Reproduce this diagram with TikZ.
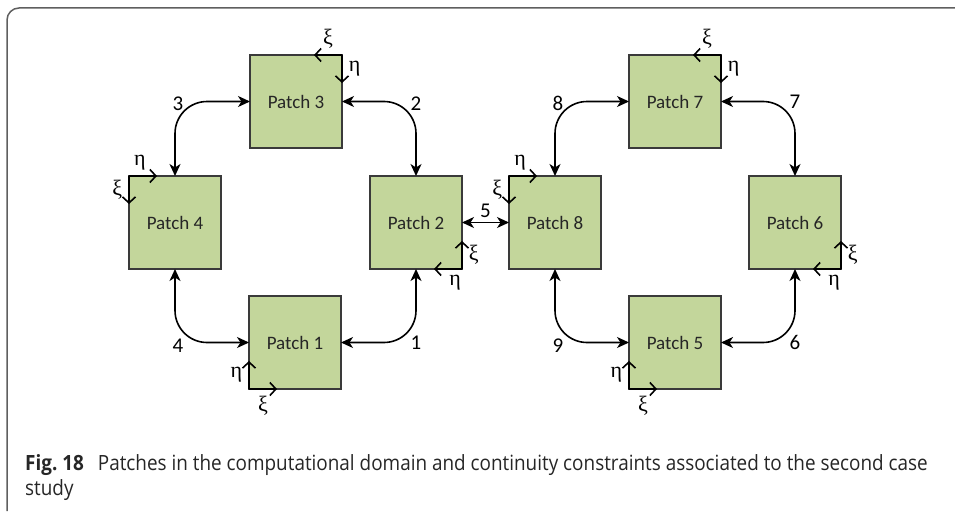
\documentclass[tikz,border=0pt]{standalone}
\usepackage{fontspec}
\setmainfont{Carlito}
\newfontfamily\greekfont{Liberation Serif}
\newfontfamily\capfont[FakeStretch=0.9]{Open Sans}
\usepackage{tikz}
\usetikzlibrary{positioning,arrows.meta}

\definecolor{patchgreen}{HTML}{C3D69B}
\definecolor{edgegray}{HTML}{3A3A3A}
\definecolor{framegray}{HTML}{5F5F5F}
\definecolor{textgray}{HTML}{262626}

\begin{document}
\begin{tikzpicture}[
        x=1pt, y=1pt,
        patch/.style={rectangle, draw=edgegray, fill=patchgreen, minimum width=92pt, minimum height=93pt, inner sep=0pt, outer sep=0pt, line width=1.5pt, text=textgray, font=\fontsize{19}{21}\selectfont},
        link/.style={draw, {Stealth[length=12pt,width=11pt,inset=3.5pt]}-{Stealth[length=12pt,width=11pt,inset=3.5pt]}, line width=1.6pt, rounded corners=32pt},
        num/.style={font=\fontsize{21}{23}\selectfont, inner sep=1pt},
        axis/.style={draw, -{Straight Barb[length=6pt,width=13pt]}, line width=1.6pt},
        greek/.style={font=\greekfont\fontsize{22}{24}\selectfont, inner sep=1pt}
    ]

    \useasboundingbox (0,0) rectangle (955,-511);

    % Frame
    \draw [framegray, line width=1.5pt, rounded corners=12pt] (7,-511) -- (7,-8) -- (955,-8);

    % Left ring of patches
    \node [patch] (p3) at (296,-101.5) {Patch 3};
    \node [patch, below left=28pt and 29pt of p3] (p4) {Patch 4};
    \node [patch, below right=28pt and 28pt of p3] (p2) {Patch 2};
    \node [patch, below right=27pt and 28pt of p4] (p1) {Patch 1};

    % Right ring of patches
    \node [patch, right=47pt of p2] (p8) {Patch 8};
    \node [patch, above right=28pt and 28pt of p8] (p7) {Patch 7};
    \node [patch, below right=28pt and 28pt of p7] (p6) {Patch 6};
    \node [patch, below right=27pt and 28pt of p8] (p5) {Patch 5};

    % Continuity constraints
    \path [link] (p3.east) -| node [num, midway, yshift=-2pt] (c2) {2} (p2.north);
    \path [link] (p4.north) |- node [num, midway, xshift=3pt, yshift=-2pt] (c3) {3} (p3.west);
    \path [link] (p1.east) -| node [num, midway] (c1) {1} (p2.south);
    \path [link] (p4.south) |- node [num, midway, xshift=3pt, yshift=-3pt] (c4) {4} (p1.west);
    \path [link] (p2.east) -- node [num, above=3pt] (c5) {5} (p8.west);
    \path [link] (p5.east) -| node [num, midway] (c6) {6} (p6.south);
    \path [link] (p7.east) -| node [num, midway] (c7) {7} (p6.north);
    \path [link] (p8.north) |- node [num, midway, xshift=3pt, yshift=-2pt] (c8) {8} (p7.west);
    \path [link] (p8.south) |- node [num, midway, xshift=3pt, yshift=-3pt] (c9) {9} (p5.west);

    % Local coordinates of each patch
    \path [axis] (p1.south west) -- ++(28,0) node [greek, midway, below=5pt] (xi1) {ξ};
    \path [axis] (p1.south west) -- ++(0,28) node [greek, midway, left=5pt] (eta1) {η};
    \path [axis] (p2.south east) -- ++(0,28) node [greek, midway, right=5pt] (xi2) {ξ};
    \path [axis] (p2.south east) -- ++(-28,0) node [greek, midway, below=4pt, xshift=7pt] (eta2) {η};
    \path [axis] (p3.north east) -- ++(-28,0) node [greek, midway, above=5pt] (xi3) {ξ};
    \path [axis] (p3.north east) -- ++(0,-28) node [greek, midway, right=5pt] (eta3) {η};
    \path [axis] (p4.north west) -- ++(0,-28) node [greek, midway, left=5pt] (xi4) {ξ};
    \path [axis] (p4.north west) -- ++(28,0) node [greek, midway, above=4pt, xshift=-3pt] (eta4) {η};
    \path [axis] (p5.south west) -- ++(28,0) node [greek, midway, below=5pt] (xi5) {ξ};
    \path [axis] (p5.south west) -- ++(0,28) node [greek, midway, left=5pt] (eta5) {η};
    \path [axis] (p6.south east) -- ++(0,28) node [greek, midway, right=5pt] (xi6) {ξ};
    \path [axis] (p6.south east) -- ++(-28,0) node [greek, midway, below=4pt, xshift=7pt] (eta6) {η};
    \path [axis] (p7.north east) -- ++(-28,0) node [greek, midway, above=5pt] (xi7) {ξ};
    \path [axis] (p7.north east) -- ++(0,-28) node [greek, midway, right=5pt] (eta7) {η};
    \path [axis] (p8.north west) -- ++(0,-28) node [greek, midway, left=5pt] (xi8) {ξ};
    \path [axis] (p8.north west) -- ++(28,0) node [greek, midway, above=4pt, xshift=-3pt] (eta8) {η};

    % Caption
    \node [anchor=north west, inner sep=0pt, align=left, text=textgray, font=\capfont\fontsize{21}{25}\selectfont] (caption) at (25,-454) {{\bfseries Fig.~18}\hspace{14pt}Patches in the computational domain and continuity constraints associated to the second case\\study};

    \end{tikzpicture}
\end{document}
